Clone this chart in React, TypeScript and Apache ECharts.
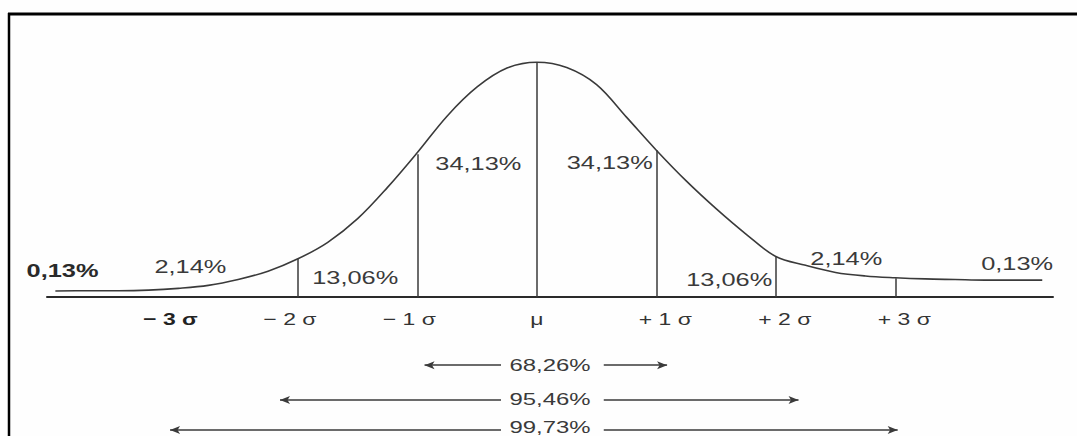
import React, { useEffect, useRef } from "react";
import * as echarts from "echarts";

// Bell curve: x in sigma units, y as density-like height
const curveSigma = [-4.03, -3.75, -3.5, -3.25, -3.0, -2.75, -2.5, -2.25, -2.0, -1.75, -1.5, -1.25, -1.0, -0.75, -0.5, -0.25, 0, 0.25, 0.5, 0.75, 1.0, 1.25, 1.5, 1.75, 2.0, 2.25, 2.5, 2.75, 3.0, 3.25, 3.5, 3.75, 4.0, 4.23];
const curveDensity = [0.0105, 0.011, 0.011, 0.012, 0.015, 0.02, 0.03, 0.044, 0.065, 0.093, 0.133, 0.186, 0.245, 0.307, 0.356, 0.388, 0.398, 0.389, 0.36, 0.305, 0.249, 0.197, 0.15, 0.107, 0.069, 0.054, 0.042, 0.036, 0.033, 0.031, 0.03, 0.029, 0.029, 0.029];

// Vertical dividers under the curve
const dividerSigma = [-2, -1, 0, 1, 2, 3];
const dividerHeight = [0.065, 0.242, 0.398, 0.249, 0.069, 0.032];

// Axis tick labels
const tickValues = [-3, -2, -1, 0, 1, 2, 3];
const tickLabels = ["− 3 σ", "− 2 σ", "− 1 σ", "μ", "+ 1 σ", "+ 2 σ", "+ 3 σ"];

// Area percentages
const areaLabels = ["0,13%", "2,14%", "13,06%", "34,13%", "34,13%", "13,06%", "2,14%", "0,13%"];
const areaLabelSigma = [-3.97, -2.9, -1.52, -0.49, 0.61, 1.61, 2.59, 4.02];
const areaLabelLevel = [0.044, 0.051, 0.032, 0.226, 0.227, 0.029, 0.065, 0.056];

// Coverage spans below the axis
const spanLabels = ["68,26%", "95,46%", "99,73%"];
const spanFrom = [-0.94, -2.15, -3.07];
const spanTo = [1.09, 2.19, 3.02];
const spanLevel = [-0.115, -0.174, -0.225];
const spanTextLevel = [-0.115, -0.172, -0.22];
const spanTextSigma = 0.11;
const spanGapLeft = -0.3;
const spanGapRight = 0.56;

const INK = "#3a3a3a";
const FONT = "'Liberation Sans', Arial, Helvetica, sans-serif";

export default function App() {
  const ref = useRef<HTMLDivElement>(null);

  useEffect(() => {
    if (!ref.current) return;
    const chart = echarts.init(ref.current, null, { renderer: "svg" });

    const dividerLines = dividerSigma.map((s, i) => [
      { coord: [s, 0], symbol: "none" },
      { coord: [s, dividerHeight[i]], symbol: "none" },
    ]);
    const spanLines: any[] = [];
    spanLabels.forEach((_, i) => {
      spanLines.push([
        { coord: [spanFrom[i], spanLevel[i]], symbol: "arrow", symbolSize: [6, 10] },
        { coord: [spanGapLeft, spanLevel[i]], symbol: "none" },
      ]);
      spanLines.push([
        { coord: [spanGapRight, spanLevel[i]], symbol: "none" },
        { coord: [spanTo[i], spanLevel[i]], symbol: "arrow", symbolSize: [6, 10] },
      ]);
    });

    chart.setOption({
      animation: false,
      backgroundColor: "#fefefe",
      grid: { left: 47, right: 24, top: 61, bottom: 0 },
      xAxis: {
        type: "value",
        min: -4.1,
        max: 4.32,
        axisLine: { onZero: true, lineStyle: { color: "#2a2a2a", width: 2 } },
        axisTick: { show: false },
        axisLabel: { show: false },
        splitLine: { show: false },
      },
      yAxis: {
        type: "value",
        min: -0.235,
        max: 0.4,
        show: false,
        splitLine: { show: false },
      },
      series: [
        {
          type: "line",
          data: curveSigma.map((s, i) => [s, curveDensity[i]]),
          smooth: 0.35,
          symbol: "none",
          silent: true,
          lineStyle: { color: INK, width: 1.6 },
          markLine: {
            silent: true,
            symbol: ["none", "none"],
            label: { show: false },
            lineStyle: { color: INK, width: 1.5, type: "solid" },
            data: [...dividerLines, ...spanLines],
          },
        },
      ],
    });

    const px = (x: number, y: number) => chart.convertToPixel({ gridIndex: 0 }, [x, y]) as number[];
    const SX = 1.45;
    const elements: any[] = [];

    areaLabels.forEach((t, i) => {
      const [x, y] = px(areaLabelSigma[i], areaLabelLevel[i]);
      elements.push({
        type: "text",
        x,
        y,
        scaleX: SX,
        silent: true,
        style: {
          text: t,
          fill: i === 0 ? "#2a2a2a" : INK,
          fontSize: 17.5,
          fontWeight: i === 0 ? "bold" : "normal",
          fontFamily: FONT,
          align: "center",
          verticalAlign: "middle",
        },
      });
    });

    tickLabels.forEach((t, i) => {
      const v = tickValues[i];
      const [x0] = px(v, 0);
      const dx = v < 0 ? -8 : v > 0 ? 9 : 0;
      elements.push({
        type: "text",
        x: x0 + dx,
        y: 319,
        scaleX: 1.35,
        silent: true,
        style: {
          text: t,
          fill: i === 0 ? "#222" : "#333",
          fontSize: 17,
          fontWeight: i === 0 ? "bold" : "normal",
          fontFamily: FONT,
          align: "center",
          verticalAlign: "middle",
        },
      });
    });

    spanLabels.forEach((t, i) => {
      const [x, y] = px(spanTextSigma, spanTextLevel[i]);
      elements.push({
        type: "text",
        x,
        y,
        scaleX: SX,
        silent: true,
        style: {
          text: t,
          fill: INK,
          fontSize: 16.5,
          fontFamily: FONT,
          align: "center",
          verticalAlign: "middle",
        },
      });
    });

    // scanned page frame (top and left edges)
    elements.push({
      type: "line",
      silent: true,
      shape: { x1: 8, y1: 14, x2: 1077, y2: 14 },
      style: { stroke: "#000", lineWidth: 3 },
    });
    elements.push({
      type: "line",
      silent: true,
      shape: { x1: 9, y1: 13, x2: 9, y2: 436 },
      style: { stroke: "#000", lineWidth: 2.5 },
    });

    chart.setOption({ graphic: { elements } });

    return () => chart.dispose();
  }, []);

  return (
    <div
      ref={ref}
      style={{ position: "fixed", left: 0, top: 0, width: 1077, height: 436 }}
    />
  );
}
